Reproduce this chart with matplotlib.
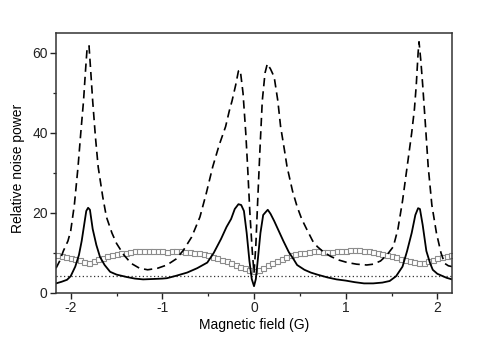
import numpy as np
import matplotlib
matplotlib.use("Agg")
import matplotlib.pyplot as plt
from matplotlib.ticker import MultipleLocator

plt.rcParams['font.family'] = ['Liberation Sans', 'DejaVu Sans']

# solid curve (narrow resonances)
solid_x = [-2.16, -2.10, -2.04, -2.00, -1.95, -1.91, -1.88, -1.85, -1.83, -1.81,
           -1.79, -1.76, -1.72, -1.68, -1.63, -1.57, -1.50, -1.39, -1.30, -1.21,
           -1.10, -1.00, -0.95, -0.85, -0.73, -0.62, -0.51, -0.44, -0.36, -0.30,
           -0.25, -0.21, -0.17, -0.14, -0.11, -0.08, -0.05, -0.025, 0.0, 0.02,
           0.04, 0.07, 0.10, 0.13, 0.15, 0.18, 0.22, 0.27, 0.32, 0.38,
           0.43, 0.47, 0.55, 0.62, 0.69, 0.80, 0.90, 1.00, 1.10, 1.20,
           1.30, 1.40, 1.48, 1.55, 1.62, 1.67, 1.72, 1.76, 1.79, 1.81,
           1.84, 1.88, 1.92, 1.95, 2.00, 2.06, 2.10, 2.16]
solid_y = [2.4, 2.8, 3.3, 4.2, 6.6, 9.5, 13.0, 17.5, 20.5, 21.3,
           20.8, 16.0, 12.0, 9.0, 7.0, 5.3, 4.6, 4.0, 3.6, 3.4,
           3.5, 3.6, 3.7, 4.3, 5.1, 6.2, 7.6, 10.0, 13.5, 16.5,
           18.5, 21.0, 22.2, 22.0, 20.5, 15.0, 8.0, 3.5, 1.7, 3.5,
           8.0, 15.0, 19.5, 20.3, 20.8, 19.8, 18.0, 15.5, 13.0, 10.2,
           8.5, 7.0, 5.8, 5.1, 4.6, 3.9, 3.4, 3.1, 2.7, 2.4,
           2.4, 2.6, 3.0, 4.2, 6.6, 10.5, 15.0, 19.5, 21.2, 21.0,
           17.0, 10.5, 7.5, 5.8, 4.8, 4.2, 3.8, 3.4]

# dashed curve (broad resonances)
dash_x = [-2.16, -2.12, -2.08, -2.03, -2.00, -1.96, -1.92, -1.89, -1.86, -1.84,
          -1.82, -1.80, -1.78, -1.76, -1.73, -1.70, -1.65, -1.61, -1.55, -1.50,
          -1.42, -1.34, -1.25, -1.16, -1.05, -0.95, -0.85, -0.77, -0.68, -0.59,
          -0.52, -0.45, -0.38, -0.31, -0.27, -0.24, -0.20, -0.17, -0.15, -0.12,
          -0.09, -0.07, -0.045, -0.02, 0.0, 0.02, 0.04, 0.065, 0.09, 0.12,
          0.145, 0.18, 0.22, 0.26, 0.29, 0.33, 0.36, 0.42, 0.47, 0.52,
          0.58, 0.64, 0.69, 0.76, 0.84, 0.93, 1.02, 1.12, 1.23, 1.30,
          1.38, 1.45, 1.52, 1.57, 1.62, 1.67, 1.72, 1.75, 1.77, 1.79,
          1.80, 1.82, 1.84, 1.87, 1.90, 1.94, 1.99, 2.04, 2.08, 2.12, 2.16]
dash_y = [6.2, 8.0, 10.5, 13.0, 15.5, 22.0, 31.5, 40.0, 48.0, 55.0,
          61.5, 61.8, 55.0, 48.0, 39.0, 31.5, 24.0, 19.0, 15.0, 12.4,
          9.5, 7.4, 6.2, 5.8, 6.2, 7.0, 8.5, 10.7, 14.0, 19.0,
          25.0, 31.6, 37.0, 41.6, 45.5, 48.0, 52.0, 55.5, 55.7, 50.0,
          40.0, 31.6, 20.0, 10.7, 5.0, 12.0, 23.0, 36.0, 48.0, 55.0,
          57.3, 56.0, 54.0, 48.0, 41.6, 36.0, 31.6, 25.5, 21.6, 18.5,
          15.7, 13.0, 11.6, 10.2, 9.1, 8.2, 7.6, 7.2, 7.0, 7.2,
          8.0, 9.5, 11.6, 16.0, 23.0, 31.5, 40.0, 46.0, 52.0, 60.0,
          62.8, 58.0, 52.0, 42.0, 31.6, 22.0, 15.0, 10.0, 7.4, 6.8, 6.6]

# open squares, one every 0.05 G starting at -2.15 G
sq_start = -2.15
sq_step = 0.05
sq_y = [9.4, 9.2, 9.0, 8.8, 8.5, 8.2, 7.8, 7.6, 7.9, 8.4,
        8.8, 9.2, 9.4, 9.7, 9.9, 10.1, 10.3, 10.4, 10.6, 10.6,
        10.5, 10.4, 10.4, 10.4, 10.3, 10.4, 10.4, 10.4, 10.3, 10.2,
        10.1, 9.9, 9.7, 9.4, 9.1, 8.7, 8.3, 7.9, 7.4, 7.0,
        6.6, 6.2, 5.8, 5.5, 5.8, 6.3, 6.9, 7.5, 8.1, 8.6,
        9.0, 9.4, 9.7, 9.9, 10.1, 10.3, 10.4, 10.4, 10.3, 10.3,
        10.2, 10.4, 10.5, 10.6, 10.7, 10.8, 10.7, 10.5, 10.4, 10.2,
        10.0, 9.8, 9.5, 9.2, 8.9, 8.6, 8.3, 8.0, 7.8, 7.6,
        7.6, 7.9, 8.3, 8.7, 9.0, 9.3, 9.6]
sq_x = sq_start + sq_step * np.arange(len(sq_y))

shot_noise = 4.3

fig = plt.figure(figsize=(4.85, 3.37), dpi=100)
ax = fig.add_axes([0.1155, 0.1306, 0.8165, 0.7715])

ax.axhline(shot_noise, color="#333333", lw=0.9, ls=(0, (1, 2)))
ax.plot(sq_x, sq_y, ls="none", marker="s", ms=3.6, mfc="white",
        mec="#8c8c8c", mew=0.8)
ax.plot(dash_x, dash_y, color="black", lw=1.2, ls=(0, (5, 3)))
ax.plot(solid_x, solid_y, color="black", lw=1.3)

ax.set_xlim(-2.16, 2.16)
ax.set_ylim(0, 65)
ax.xaxis.set_major_locator(MultipleLocator(1))
ax.xaxis.set_minor_locator(MultipleLocator(0.5))
ax.yaxis.set_major_locator(MultipleLocator(20))
ax.yaxis.set_minor_locator(MultipleLocator(10))
ax.tick_params(which="major", direction="out", length=4, width=1,
               labelsize=10, colors="#222222", pad=2)
ax.tick_params(which="minor", direction="out", length=2.5, width=0.9,
               colors="#222222")
# plain hyphen minus signs, as in the original
ax.xaxis.set_major_formatter(plt.FuncFormatter(lambda v, p: f"{v:g}"))

for s in ax.spines.values():
    s.set_color("#333333")
    s.set_linewidth(1.1)

ax.set_xlabel("Magnetic field (G)", fontsize=10, labelpad=2)
ax.set_ylabel("Relative noise power", fontsize=10)
ax.yaxis.set_label_coords(-0.078, 0.48)

fig.savefig("out.png", dpi=100)
